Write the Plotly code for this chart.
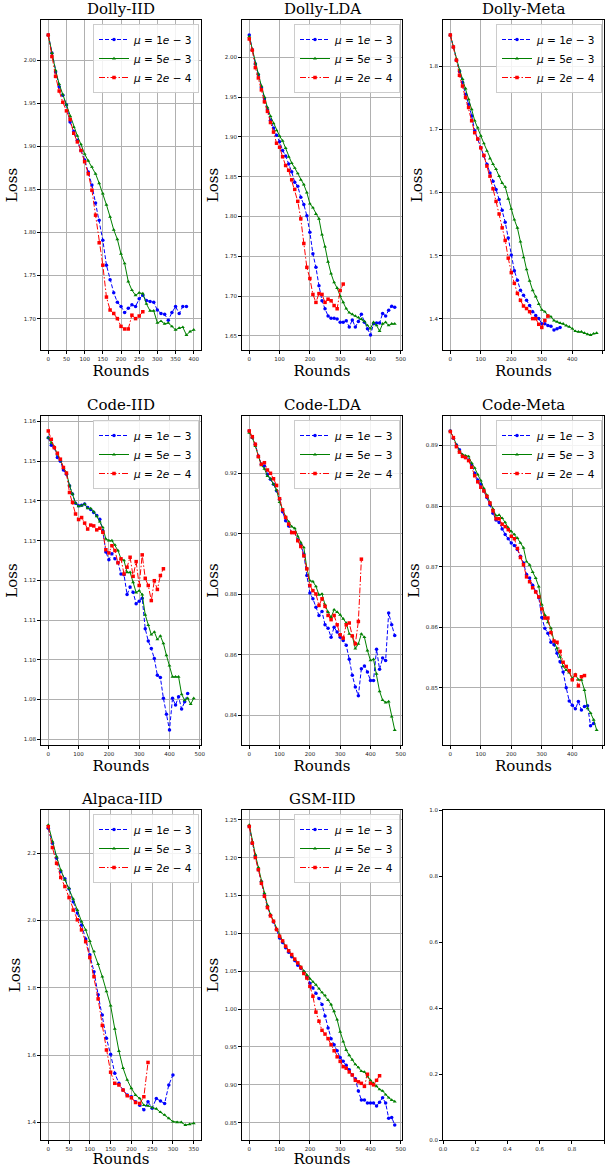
import plotly.graph_objects as go

W, H = 607, 1168

titles = ["Dolly-IID", "Dolly-LDA", "Dolly-Meta", "Code-IID", "Code-LDA",
          "Code-Meta", "Alpaca-IID", "GSM-IID"]
series_names = ["<i>μ</i> = 1<i>e</i> − 3", "<i>μ</i> = 5<i>e</i> − 3",
                "<i>μ</i> = 2<i>e</i> − 4"]

# loss every 10 rounds; b: mu=1e-3, g: mu=5e-3, r: mu=2e-4
dolly_iid_b = [2.029, 2.008, 1.986, 1.969, 1.959, 1.948, 1.928, 1.917, 1.907, 1.895,
               1.884, 1.870, 1.855, 1.834, 1.814, 1.791, 1.762, 1.745, 1.730, 1.719,
               1.714, 1.707, 1.712, 1.716, 1.714, 1.723, 1.727, 1.721, 1.720, 1.719,
               1.710, 1.706, 1.705, 1.698, 1.707, 1.714, 1.706, 1.714, 1.714]
dolly_iid_g = [2.029, 2.008, 1.988, 1.972, 1.960, 1.948, 1.935, 1.922, 1.912, 1.902,
               1.891, 1.883, 1.876, 1.868, 1.857, 1.845, 1.832, 1.818, 1.803, 1.792,
               1.775, 1.764, 1.743, 1.733, 1.727, 1.730, 1.729, 1.717, 1.709, 1.709,
               1.695, 1.697, 1.694, 1.695, 1.691, 1.687, 1.689, 1.690, 1.681, 1.685,
               1.687]
dolly_iid_r = [2.029, 2.004, 1.981, 1.964, 1.951, 1.941, 1.931, 1.915, 1.905, 1.895,
               1.882, 1.868, 1.849, 1.820, 1.788, 1.762, 1.725, 1.710, 1.706, 1.700,
               1.691, 1.688, 1.688, 1.704, 1.700, 1.703, 1.708]

dolly_lda_b = [2.028, 2.009, 1.992, 1.978, 1.962, 1.948, 1.934, 1.921, 1.911, 1.902,
               1.894, 1.883, 1.876, 1.866, 1.856, 1.843, 1.838, 1.824, 1.815, 1.801,
               1.780, 1.753, 1.736, 1.713, 1.694, 1.684, 1.675, 1.672, 1.672, 1.671,
               1.667, 1.667, 1.669, 1.661, 1.670, 1.661, 1.668, 1.677, 1.667, 1.659,
               1.651, 1.665, 1.666, 1.666, 1.678, 1.675, 1.682, 1.687, 1.686]
dolly_lda_g = [2.026, 2.009, 1.992, 1.979, 1.964, 1.950, 1.937, 1.926, 1.917, 1.908,
               1.901, 1.895, 1.886, 1.875, 1.867, 1.861, 1.854, 1.846, 1.840, 1.830,
               1.816, 1.811, 1.803, 1.797, 1.777, 1.762, 1.743, 1.728, 1.717, 1.710,
               1.700, 1.692, 1.684, 1.679, 1.677, 1.675, 1.673, 1.671, 1.668, 1.663,
               1.659, 1.667, 1.663, 1.656, 1.665, 1.667, 1.663, 1.665, 1.665]
dolly_lda_r = [2.023, 2.009, 1.987, 1.974, 1.959, 1.944, 1.932, 1.918, 1.906, 1.892,
               1.887, 1.875, 1.864, 1.858, 1.846, 1.834, 1.819, 1.797, 1.766, 1.736,
               1.722, 1.702, 1.692, 1.703, 1.702, 1.692, 1.696, 1.694, 1.688, 1.684,
               1.707, 1.715]

dolly_meta_b = [1.850, 1.831, 1.810, 1.792, 1.775, 1.756, 1.740, 1.722, 1.698, 1.685,
                1.671, 1.658, 1.645, 1.631, 1.618, 1.605, 1.589, 1.572, 1.553, 1.528,
                1.501, 1.476, 1.461, 1.445, 1.437, 1.429, 1.421, 1.411, 1.405, 1.400,
                1.392, 1.392, 1.389, 1.388, 1.382, 1.384, 1.386]
dolly_meta_g = [1.850, 1.831, 1.812, 1.795, 1.780, 1.765, 1.748, 1.732, 1.714, 1.703,
                1.690, 1.678, 1.666, 1.654, 1.645, 1.637, 1.626, 1.615, 1.609, 1.590,
                1.574, 1.557, 1.544, 1.522, 1.497, 1.478, 1.460, 1.445, 1.435, 1.423,
                1.414, 1.411, 1.405, 1.403, 1.397, 1.395, 1.393, 1.392, 1.389, 1.387,
                1.384, 1.380, 1.379, 1.379, 1.377, 1.375, 1.374, 1.376, 1.377]
dolly_meta_r = [1.850, 1.831, 1.810, 1.786, 1.769, 1.751, 1.735, 1.714, 1.695, 1.685,
                1.671, 1.659, 1.642, 1.626, 1.606, 1.586, 1.566, 1.544, 1.524, 1.496,
                1.473, 1.456, 1.440, 1.429, 1.420, 1.416, 1.411, 1.400, 1.400, 1.391,
                1.386, 1.397, 1.404]

code_iid_b = [1.1559, 1.1540, 1.1534, 1.1509, 1.1500, 1.1478, 1.1467, 1.1438, 1.1417, 1.1394,
              1.1388, 1.1389, 1.1392, 1.1383, 1.1378, 1.1371, 1.1363, 1.1354, 1.1325, 1.1271,
              1.1252, 1.1267, 1.1254, 1.1245, 1.1216, 1.1214, 1.1164, 1.1183, 1.1170, 1.1141,
              1.1147, 1.1155, 1.1078, 1.1047, 1.1028, 1.1003, 1.0961, 1.0955, 1.0903, 1.0863,
              1.0823, 1.0903, 1.0886, 1.0907, 1.0876, 1.0894, 1.0915]
code_iid_g = [1.1559, 1.1546, 1.1536, 1.1517, 1.1503, 1.1484, 1.1471, 1.1439, 1.1417, 1.1394,
              1.1386, 1.1388, 1.1392, 1.1381, 1.1381, 1.1373, 1.1361, 1.1348, 1.1333, 1.1304,
              1.1300, 1.1300, 1.1289, 1.1275, 1.1254, 1.1250, 1.1220, 1.1220, 1.1195, 1.1169,
              1.1174, 1.1164, 1.1113, 1.1087, 1.1063, 1.1070, 1.1051, 1.1060, 1.1041, 1.1011,
              1.0985, 1.0957, 1.0957, 1.0957, 1.0913, 1.0898, 1.0903, 1.0888, 1.0903]
code_iid_r = [1.1576, 1.1555, 1.1534, 1.1520, 1.1505, 1.1484, 1.1470, 1.1421, 1.1396, 1.1367,
              1.1353, 1.1358, 1.1344, 1.1329, 1.1339, 1.1337, 1.1327, 1.1331, 1.1321, 1.1277,
              1.1269, 1.1287, 1.1275, 1.1244, 1.1254, 1.1216, 1.1233, 1.1258, 1.1210, 1.1247,
              1.1187, 1.1264, 1.1205, 1.1187, 1.1149, 1.1199, 1.1177, 1.1212, 1.1229]

code_lda_b = [0.9340, 0.9318, 0.9296, 0.9257, 0.9230, 0.9224, 0.9197, 0.9180, 0.9164, 0.9142,
              0.9114, 0.9073, 0.9043, 0.9026, 0.9004, 0.9004, 0.8980, 0.8963, 0.8933, 0.8862,
              0.8804, 0.8785, 0.8757, 0.8730, 0.8743, 0.8699, 0.8688, 0.8658, 0.8691, 0.8675,
              0.8658, 0.8647, 0.8631, 0.8585, 0.8532, 0.8493, 0.8464, 0.8554, 0.8563, 0.8543,
              0.8515, 0.8515, 0.8618, 0.8552, 0.8589, 0.8581, 0.8738, 0.8699, 0.8664]
code_lda_g = [0.9334, 0.9318, 0.9290, 0.9255, 0.9226, 0.9215, 0.9191, 0.9182, 0.9164, 0.9145,
              0.9105, 0.9079, 0.9057, 0.9040, 0.9024, 0.9018, 0.8991, 0.8971, 0.8955, 0.8886,
              0.8845, 0.8842, 0.8826, 0.8798, 0.8801, 0.8765, 0.8741, 0.8724, 0.8749, 0.8741,
              0.8732, 0.8719, 0.8705, 0.8669, 0.8662, 0.8620, 0.8636, 0.8669, 0.8658, 0.8614,
              0.8581, 0.8585, 0.8537, 0.8479, 0.8450, 0.8442, 0.8445, 0.8395, 0.8351]
code_lda_r = [0.9340, 0.9321, 0.9296, 0.9255, 0.9230, 0.9235, 0.9211, 0.9200, 0.9182, 0.9160,
              0.9116, 0.9079, 0.9054, 0.9032, 0.9004, 0.9004, 0.8977, 0.8958, 0.8927, 0.8884,
              0.8829, 0.8812, 0.8801, 0.8763, 0.8785, 0.8760, 0.8730, 0.8716, 0.8730, 0.8699,
              0.8666, 0.8655, 0.8699, 0.8705, 0.8662, 0.8636, 0.8710, 0.8916]

code_meta_b = [0.8924, 0.8912, 0.8901, 0.8893, 0.8883, 0.8880, 0.8876, 0.8868, 0.8854, 0.8843,
               0.8836, 0.8825, 0.8814, 0.8802, 0.8788, 0.8777, 0.8773, 0.8762, 0.8753, 0.8746,
               0.8739, 0.8735, 0.8728, 0.8717, 0.8706, 0.8687, 0.8681, 0.8669, 0.8659, 0.8649,
               0.8616, 0.8598, 0.8590, 0.8575, 0.8571, 0.8557, 0.8543, 0.8526, 0.8500, 0.8478,
               0.8471, 0.8465, 0.8477, 0.8463, 0.8469, 0.8470, 0.8437, 0.8441]
code_meta_g = [0.8924, 0.8913, 0.8900, 0.8891, 0.8885, 0.8883, 0.8882, 0.8871, 0.8863, 0.8852,
               0.8842, 0.8829, 0.8818, 0.8806, 0.8795, 0.8784, 0.8785, 0.8780, 0.8773, 0.8764,
               0.8758, 0.8753, 0.8747, 0.8739, 0.8731, 0.8708, 0.8703, 0.8691, 0.8681, 0.8667,
               0.8637, 0.8620, 0.8608, 0.8598, 0.8577, 0.8565, 0.8551, 0.8535, 0.8529, 0.8525,
               0.8515, 0.8522, 0.8513, 0.8513, 0.8496, 0.8466, 0.8458, 0.8447, 0.8430]
code_meta_r = [0.8923, 0.8913, 0.8898, 0.8889, 0.8882, 0.8880, 0.8875, 0.8864, 0.8850, 0.8840,
               0.8831, 0.8825, 0.8816, 0.8805, 0.8792, 0.8779, 0.8779, 0.8770, 0.8766, 0.8761,
               0.8750, 0.8746, 0.8730, 0.8715, 0.8703, 0.8683, 0.8675, 0.8665, 0.8658, 0.8650,
               0.8630, 0.8615, 0.8615, 0.8591, 0.8577, 0.8575, 0.8560, 0.8542, 0.8535, 0.8528,
               0.8513, 0.8521, 0.8503, 0.8518, 0.8520]

alpaca_iid_b = [2.274, 2.230, 2.185, 2.145, 2.124, 2.094, 2.056, 2.022, 1.987, 1.945,
                1.898, 1.848, 1.779, 1.719, 1.650, 1.602, 1.546, 1.516, 1.496, 1.481,
                1.476, 1.461, 1.451, 1.437, 1.461, 1.442, 1.471, 1.463, 1.456, 1.511,
                1.541]
alpaca_iid_g = [2.284, 2.235, 2.190, 2.150, 2.121, 2.096, 2.064, 2.031, 1.997, 1.972,
                1.939, 1.908, 1.870, 1.833, 1.789, 1.747, 1.678, 1.612, 1.561, 1.526,
                1.501, 1.481, 1.471, 1.451, 1.449, 1.444, 1.440, 1.430, 1.422, 1.412,
                1.402, 1.400, 1.400, 1.392, 1.394, 1.397]
alpaca_iid_r = [2.279, 2.217, 2.170, 2.128, 2.101, 2.068, 2.031, 2.002, 1.972, 1.937,
                1.890, 1.833, 1.767, 1.688, 1.615, 1.549, 1.516, 1.511, 1.496, 1.479,
                1.473, 1.459, 1.456, 1.476, 1.578]

gsm_iid_b = [1.241, 1.219, 1.202, 1.184, 1.168, 1.150, 1.135, 1.124, 1.115, 1.105,
             1.094, 1.088, 1.081, 1.075, 1.069, 1.064, 1.058, 1.054, 1.049, 1.042,
             1.034, 1.028, 1.021, 1.014, 1.006, 0.991, 0.975, 0.961, 0.953, 0.945,
             0.936, 0.931, 0.926, 0.920, 0.913, 0.908, 0.892, 0.880, 0.880, 0.876,
             0.876, 0.876, 0.872, 0.877, 0.883, 0.876, 0.856, 0.857, 0.847]
gsm_iid_g = [1.243, 1.221, 1.204, 1.187, 1.169, 1.153, 1.137, 1.125, 1.116, 1.106,
             1.097, 1.090, 1.083, 1.077, 1.071, 1.065, 1.061, 1.056, 1.050, 1.045,
             1.040, 1.036, 1.032, 1.027, 1.022, 1.018, 1.012, 1.006, 0.997, 0.986,
             0.970, 0.957, 0.946, 0.939, 0.933, 0.927, 0.923, 0.918, 0.917, 0.911,
             0.906, 0.902, 0.898, 0.894, 0.892, 0.887, 0.883, 0.880, 0.878]
gsm_iid_r = [1.241, 1.219, 1.200, 1.184, 1.166, 1.149, 1.134, 1.123, 1.116, 1.105,
             1.096, 1.090, 1.083, 1.077, 1.072, 1.066, 1.061, 1.055, 1.047, 1.041,
             1.030, 1.017, 0.996, 0.984, 0.972, 0.967, 0.961, 0.953, 0.945, 0.937,
             0.931, 0.924, 0.922, 0.917, 0.913, 0.906, 0.904, 0.902, 0.898, 0.914,
             0.902, 0.900, 0.906, 0.912]

panels = [
    (dolly_iid_b, dolly_iid_g, dolly_iid_r),
    (dolly_lda_b, dolly_lda_g, dolly_lda_r),
    (dolly_meta_b, dolly_meta_g, dolly_meta_r),
    (code_iid_b, code_iid_g, code_iid_r),
    (code_lda_b, code_lda_g, code_lda_r),
    (code_meta_b, code_meta_g, code_meta_r),
    (alpaca_iid_b, alpaca_iid_g, alpaca_iid_r),
    (gsm_iid_b, gsm_iid_g, gsm_iid_r),
]
x_dticks = [50, 100, 100, 100, 100, 100, 50, 100]
y_dticks = [0.05, 0.05, 0.1, 0.01, 0.02, 0.01, 0.2, 0.05]
y_formats = [".2f", ".2f", ".1f", ".2f", ".2f", ".2f", ".1f", ".2f"]

colors = ["blue", "green", "red"]
dashes = ["4px,2px", "solid", "6px,2px,1.5px,2px"]
symbols = ["circle", "triangle-up", "square"]

# subplot boxes in pixels
col_px = [(41, 201), (242, 402), (443, 604)]
row_px = [(20, 350), (416, 745), (810, 1140)]

serif = "DejaVu Serif"
sans = "DejaVu Sans"

fig = go.Figure()
layout = {}
annotations = []


def padded(lo, hi):
    span = hi - lo
    return [lo - 0.05 * span, hi + 0.05 * span]


def axis_style():
    return dict(
        showline=True, mirror=True, linecolor="black", linewidth=1,
        ticks="outside", ticklen=3, tickwidth=0.8, tickcolor="black",
        tickfont=dict(family=sans, size=5.5, color="#222"),
        zeroline=False, showgrid=True, gridcolor="#b0b0b0", gridwidth=0.8,
        automargin=False,
    )


for i in range(9):
    r, c = divmod(i, 3)
    sfx = "" if i == 0 else str(i + 1)
    x0, x1 = col_px[c]
    top, bot = row_px[r]
    xd = [x0 / W, x1 / W]
    yd = [1 - bot / H, 1 - top / H]
    xa = axis_style()
    ya = axis_style()
    xa.update(domain=xd, anchor="y" + sfx)
    ya.update(domain=yd, anchor="x" + sfx)

    if i < 8:
        allx, ally = [], []
        for k, ys in enumerate(panels[i]):
            xs = list(range(0, 10 * len(ys), 10))
            allx += xs
            ally += ys
            fig.add_trace(go.Scatter(
                x=xs, y=ys, mode="lines+markers", name=series_names[k],
                line=dict(color=colors[k], width=1, dash=dashes[k]),
                marker=dict(symbol=symbols[k], size=3.5, color=colors[k]),
                xaxis="x" + sfx, yaxis="y" + sfx, legend="legend" + sfx,
            ))
        xa.update(range=padded(min(allx), max(allx)), dtick=x_dticks[i], tick0=0)
        ya.update(range=padded(min(ally), max(ally)), dtick=y_dticks[i], tick0=0,
                  tickformat=y_formats[i])
        xa["title"] = dict(text="Rounds", font=dict(family=serif, size=15, color="black"),
                           standoff=0)
        ya["title"] = dict(text="Loss", font=dict(family=serif, size=15, color="black"),
                           standoff=2)
        layout["legend" + sfx] = dict(
            x=xd[1] - 2 / W, y=yd[1] - 4 / H, xanchor="right", yanchor="top",
            xref="paper", yref="paper",
            bgcolor="rgba(255,255,255,0.85)", bordercolor="#cccccc", borderwidth=1,
            font=dict(family=sans, size=10.5, color="black"),
            itemwidth=30, tracegroupgap=0,
        )
        annotations.append(dict(
            text=titles[i], x=(xd[0] + xd[1]) / 2, y=yd[1], xref="paper", yref="paper",
            xanchor="center", yanchor="bottom", yshift=0, showarrow=False,
            font=dict(family=serif, size=15, color="black"),
        ))
    else:
        # empty last panel, kept only for its axes
        fig.add_trace(go.Scatter(x=[], y=[], xaxis="x" + sfx, yaxis="y" + sfx,
                                 showlegend=False, hoverinfo="skip"))
        xa.update(range=[0, 1], dtick=0.2, tick0=0, tickformat=".1f", showgrid=False)
        ya.update(range=[0, 1], dtick=0.2, tick0=0, tickformat=".1f", showgrid=False)

    layout["xaxis" + sfx] = xa
    layout["yaxis" + sfx] = ya

fig.update_layout(
    **layout,
    annotations=annotations,
    width=W, height=H,
    margin=dict(l=0, r=0, t=0, b=0),
    plot_bgcolor="white", paper_bgcolor="white",
    showlegend=True,
)

fig.write_html("out.html", config={"displayModeBar": False},
               post_script="document.body.style.margin='0';")
